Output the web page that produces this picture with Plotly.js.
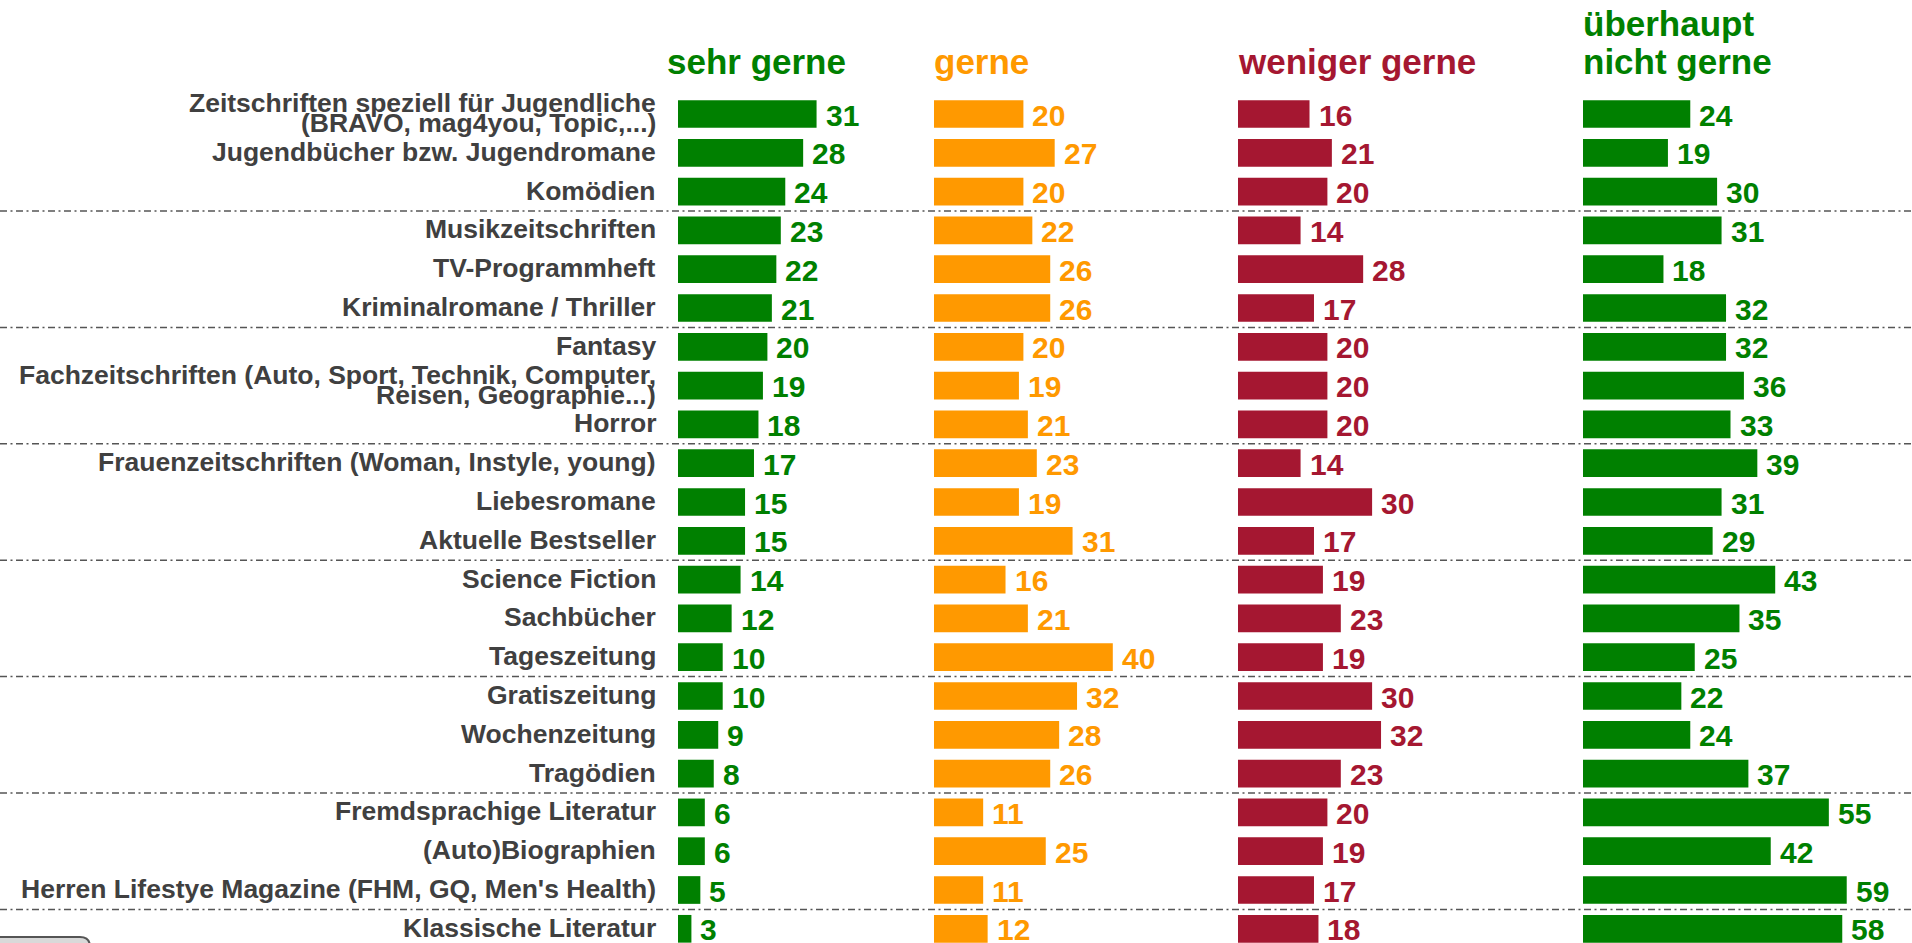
<!DOCTYPE html>
<html>
<head>
<meta charset="utf-8">
<script src="https://cdn.plot.ly/plotly-3.0.1.min.js"></script>
<style>
html,body{margin:0;padding:0;background:#fff;}
#chart{width:1912px;height:943px;}
</style>
</head>
<body>
<div id="chart"></div>
<script>
// ---------- DATA ----------
const categories = [
  "Zeitschriften speziell für Jugendliche<br>(BRAVO, mag4you, Topic,...)",
  "Jugendbücher bzw. Jugendromane",
  "Komödien",
  "Musikzeitschriften",
  "TV-Programmheft",
  "Kriminalromane / Thriller",
  "Fantasy",
  "Fachzeitschriften (Auto, Sport, Technik, Computer,<br>Reisen, Geographie...)",
  "Horror",
  "Frauenzeitschriften (Woman, Instyle, young)",
  "Liebesromane",
  "Aktuelle Bestseller",
  "Science Fiction",
  "Sachbücher",
  "Tageszeitung",
  "Gratiszeitung",
  "Wochenzeitung",
  "Tragödien",
  "Fremdsprachige Literatur",
  "(Auto)Biographien",
  "Herren Lifestye Magazine (FHM, GQ, Men's Health)",
  "Klassische Literatur"
];
const sehrGerne      = [31,28,24,23,22,21,20,19,18,17,15,15,14,12,10,10,9,8,6,6,5,3];
const gerne          = [20,27,20,22,26,26,20,19,21,23,19,31,16,21,40,32,28,26,11,25,11,12];
const wenigerGerne   = [16,21,20,14,28,17,20,20,20,14,30,17,19,23,19,30,32,23,20,19,17,18];
const ueberhauptNicht= [24,19,30,31,18,32,32,36,33,39,31,29,43,35,25,22,24,37,55,42,59,58];
const seriesTitles   = ["sehr gerne","gerne","weniger gerne","überhaupt<br>nicht gerne"];

// ---------- STYLE / LAYOUT ----------
const W = 1912, H = 943;
const FONT = "Liberation Sans, Arial, Helvetica, sans-serif";
const colors = ["#008000","#FF9900","#A51731","#008000"];
const seriesValues = [sehrGerne, gerne, wenigerGerne, ueberhauptNicht];
const pxPerUnit = 4.47;
const colStart = [678, 934, 1238, 1583];
const colWidth = [240, 250, 300, 329];
const rowTop = 114, rowPitch = 38.8;
const titleShift = [-11, 0, 0, 0];

const traces = [];
const layout = {
  width: W, height: H, autosize: false,
  margin: {l:0, r:0, t:0, b:0, pad:0},
  paper_bgcolor: "#fff", plot_bgcolor: "rgba(0,0,0,0)",
  showlegend: false, bargap: 0.286,
  font: {family: FONT},
  yaxis: {
    type: "category",
    range: [-rowTop/rowPitch + H/rowPitch, -rowTop/rowPitch],
    showticklabels: false, showgrid: false, zeroline: false, showline: false, ticks: "",
    fixedrange: true
  },
  annotations: [], shapes: []
};

seriesValues.forEach((vals, s) => {
  const ax = s === 0 ? "x" : "x" + (s+1);
  const axKey = s === 0 ? "xaxis" : "xaxis" + (s+1);
  layout[axKey] = {
    domain: [colStart[s]/W, (colStart[s]+colWidth[s])/W],
    range: [0, colWidth[s]/pxPerUnit],
    anchor: "y", visible: false, fixedrange: true
  };
  traces.push({
    type: "bar", orientation: "h",
    x: vals, y: categories,
    xaxis: ax, yaxis: "y",
    marker: {color: colors[s], line: {width: 0}},
    hoverinfo: "x+y"
  });
  // value labels
  vals.forEach((v, i) => {
    layout.annotations.push({
      x: v, y: categories[i], xref: ax, yref: "y",
      text: String(v), showarrow: false,
      xanchor: "left", yanchor: "middle", xshift: 7, yshift: -1,
      font: {family: FONT, size: 30, color: colors[s], weight: 700}
    });
  });
  // column titles
  const lines = seriesTitles[s].split("<br>");
  lines.forEach((ln, j) => {
    const baseline = 74 - (lines.length - 1 - j) * 39;
    layout.annotations.push({
      x: 0, xref: ax, xanchor: "left", xshift: titleShift[s] - 2,
      y: 1 - (baseline - 12) / H, yref: "paper", yanchor: "middle",
      text: ln, showarrow: false,
      font: {family: FONT, size: 35, color: colors[s], weight: 700}
    });
  });
});

// category labels
categories.forEach((c, i) => {
  const lines = c.split("<br>");
  lines.forEach((ln, j) => {
    layout.annotations.push({
      x: 658/W, xref: "paper", xanchor: "right",
      y: c, yref: "y", yanchor: "middle",
      yshift: ((lines.length - 1) / 2 - j) * 20 + 1,
      text: ln, showarrow: false,
      font: {family: FONT, size: 26.5, color: "#404040", weight: 700}
    });
  });
});

// dash-dot separators between groups of three rows
for (let i = 2; i < categories.length - 1; i += 3) {
  layout.shapes.push({
    type: "line", xref: "paper", yref: "y",
    x0: 0, x1: 1, y0: i + 0.5, y1: i + 0.5,
    line: {color: "#555555", width: 1.5, dash: "7px,3.5px,2px,3.5px"}
  });
}

// partially visible grey button at bottom-left
const bx = 90/W, by = 1 - 937/H, rx = 10/W, ry = 10/H;
layout.shapes.push({
  type: "path", xref: "paper", yref: "paper",
  path: `M -0.01,-0.02 L -0.01,${by} L ${bx-rx},${by} Q ${bx},${by} ${bx},${by-ry} L ${bx},-0.02 Z`,
  fillcolor: "#d9d9d9", line: {color: "#555555", width: 2}
});

Plotly.newPlot("chart", traces, layout, {displayModeBar: false, staticPlot: true});
</script>
</body>
</html>
